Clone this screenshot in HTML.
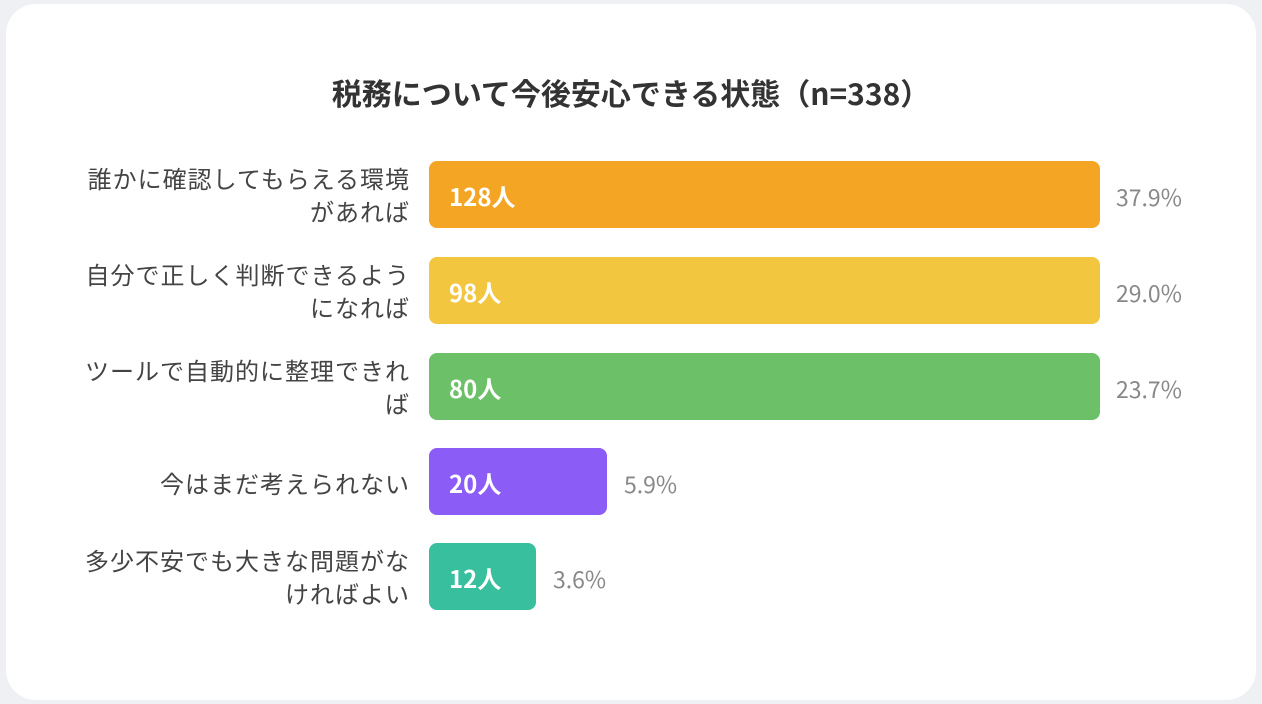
<!DOCTYPE html>
<html><head><meta charset="utf-8"><style>
html,body{margin:0;padding:0;}
body{width:1262px;height:704px;background:#eef0f4;position:relative;overflow:hidden;font-family:"Noto Sans CJK JP","Liberation Sans",sans-serif;}
.card{position:absolute;left:6px;top:4px;width:1250px;height:696px;background:#fff;border-radius:30px;}
.title{position:absolute;left:6px;width:1250px;top:71px;text-align:center;font-size:30px;font-weight:bold;color:#333;line-height:42px;}
.lbl{position:absolute;right:852px;width:400px;text-align:right;font-size:24px;letter-spacing:1px;color:#444;line-height:33px;white-space:nowrap;}
.bar{position:absolute;left:429px;height:67px;border-radius:8px;color:#fff;font-weight:bold;font-size:24px;line-height:70px;box-sizing:border-box;padding-left:20px;}
.pct{position:absolute;font-size:23px;color:#888;line-height:70px;}
</style></head><body>
<div class="card"></div>
<div class="title">税務について今後安心できる状態（n=338）</div>

<div class="lbl" style="top:161px">誰かに確認してもらえる環境<br>があれば</div>
<div class="bar" style="top:161px;width:671px;background:#f4a523">128人</div>
<div class="pct" style="top:161px;left:1116px">37.9%</div>

<div class="lbl" style="top:257px">自分で正しく判断できるよう<br>になれば</div>
<div class="bar" style="top:257px;width:671px;background:#f3c640">98人</div>
<div class="pct" style="top:257px;left:1116px">29.0%</div>

<div class="lbl" style="top:353px">ツールで自動的に整理できれ<br>ば</div>
<div class="bar" style="top:353px;width:671px;background:#6cc067">80人</div>
<div class="pct" style="top:353px;left:1116px">23.7%</div>

<div class="lbl" style="top:466px">今はまだ考えられない</div>
<div class="bar" style="top:448px;width:178px;background:#8b5cf6">20人</div>
<div class="pct" style="top:448px;left:624px">5.9%</div>

<div class="lbl" style="top:543px">多少不安でも大きな問題がな<br>ければよい</div>
<div class="bar" style="top:543px;width:107px;background:#38bf9e">12人</div>
<div class="pct" style="top:543px;left:553px">3.6%</div>
</body></html>
